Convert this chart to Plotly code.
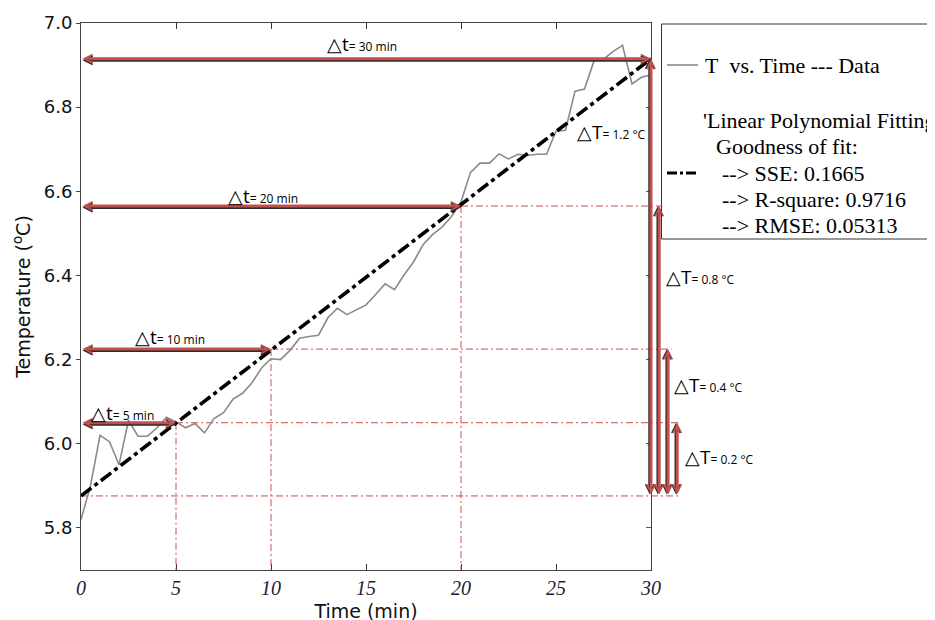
import plotly.graph_objects as go

W, H = 935, 620

# ---------------- data ----------------
time_min = [0, 0.5, 1, 1.5, 2, 2.5, 3, 3.5, 4, 4.5, 5, 5.5, 6, 6.5, 7, 7.5, 8, 8.5, 9, 9.5,
            10, 10.5, 11, 11.5, 12, 12.5, 13, 13.5, 14, 14.5, 15, 15.5, 16, 16.5, 17, 17.5,
            18, 18.5, 19, 19.5, 20, 20.5, 21, 21.5, 22, 22.5, 23, 23.5, 24, 24.5, 25, 25.5,
            26, 26.5, 27, 27.5, 28, 28.5, 29, 29.5, 30]
temp_c = [5.820, 5.900, 6.020, 6.005, 5.950, 6.056, 6.018, 6.018, 6.038, 6.063, 6.052, 6.038,
          6.048, 6.026, 6.060, 6.074, 6.106, 6.120, 6.145, 6.180, 6.202, 6.200, 6.222, 6.251,
          6.255, 6.258, 6.300, 6.322, 6.307, 6.318, 6.330, 6.354, 6.380, 6.366, 6.401, 6.432,
          6.473, 6.497, 6.515, 6.540, 6.575, 6.645, 6.667, 6.667, 6.689, 6.677, 6.688, 6.685,
          6.688, 6.688, 6.743, 6.745, 6.838, 6.843, 6.910, 6.914, 6.932, 6.947, 6.855, 6.871,
          6.877]

fit_time = [0, 30]
fit_temp = [5.876, 6.915]

dt_ends = [5, 10, 20, 30]                    # Δt intervals (min)
dt_levels = [6.050, 6.225, 6.565, 6.915]     # fitted T at end of each interval
t_base = 5.876                               # fitted T at t = 0
dT_values = ["0.2", "0.4", "0.8", "1.2"]     # ΔT labels (°C)

x_ticks = [0, 5, 10, 15, 20, 25, 30]
y_ticks = [5.8, 6.0, 6.2, 6.4, 6.6, 6.8, 7.0]

legend_data = "T\u00a0\u00a0vs. Time --- Data"
legend_fit = ["'Linear Polynomial Fitting", "Goodness of fit:",
              "--> SSE: 0.1665", "--> R-square: 0.9716", "--> RMSE: 0.05313"]

# ---------------- layout helpers ----------------
OFF = 8  # page body margin in the browser
PX_L, PX_R, PX_T, PX_B = 81, 651, 23, 570
def px(x):
    return (x - OFF) / W
def py(y):
    return 1 - (y - OFF) / H

x_dom = [px(PX_L), px(PX_R)]
y_dom = [py(PX_B), py(PX_T)]
x2_dom = [px(PX_L), 1.0]
x2_max = 30 * (x2_dom[1] - x2_dom[0]) / (x_dom[1] - x_dom[0])
Y_MIN, Y_MAX = 5.70, 7.0

RED = "#c0504d"
SHADOW = "#2a2a2a"
GUIDE = "#cf4a4a"

# vertical ΔT arrow positions (x2 coords) for ΔT = 0.2, 0.4, 0.8, 1.2
vert_x = [31.38, 30.9, 30.43, 30.0]
dt_label_pos = [(2.2, 6.074), (4.7, 6.254), (9.6, 6.590), (14.8, 6.950)]
dT_label_pos = [(33.6, 5.968), (33.0, 6.140), (32.6, 6.396), (27.9, 6.742)]

fig = go.Figure()

# helper for right-side inside ticks
fig.add_trace(go.Scatter(x=[None], y=[None], xaxis="x", yaxis="y2",
                         hoverinfo="skip", mode="lines"))

# guide lines (extended subplot)
gdash = "7px,3px,2px,3px"
fig.add_trace(go.Scatter(x=[0, 31.55], y=[t_base, t_base], mode="lines",
                         line=dict(color=GUIDE, width=1, dash=gdash),
                         xaxis="x2", yaxis="y", hoverinfo="skip"))
for i in range(3):
    xe = dt_ends[i]
    lv = dt_levels[i]
    xr = vert_x[i] + 0.18
    fig.add_trace(go.Scatter(x=[xe, xr], y=[lv, lv], mode="lines",
                             line=dict(color=GUIDE, width=1, dash=gdash),
                             xaxis="x2", yaxis="y", hoverinfo="skip"))
    fig.add_trace(go.Scatter(x=[xe, xe], y=[lv, Y_MIN], mode="lines",
                             line=dict(color=GUIDE, width=1, dash=gdash),
                             xaxis="x2", yaxis="y", hoverinfo="skip"))

# data line
fig.add_trace(go.Scatter(x=time_min, y=temp_c, mode="lines",
                         line=dict(color="#8a8a8a", width=1.6),
                         xaxis="x2", yaxis="y", hoverinfo="skip"))

# fit line
fig.add_trace(go.Scatter(x=fit_time, y=fit_temp, mode="lines",
                         line=dict(color="black", width=3.6, dash="13px,4px,4px,4px"),
                         xaxis="x2", yaxis="y", hoverinfo="skip"))

annotations = []
def arrow(x0, y0, x1, y1, color, dx=0, dy=0, w=3):
    return dict(x=x1, y=y1, ax=x0, ay=y0, xref="x2", yref="y", axref="x2", ayref="y",
                text="", showarrow=True, arrowhead=5, startarrowhead=5,
                arrowside="end+start", arrowsize=0.55, startarrowsize=0.55,
                arrowwidth=w, arrowcolor=color, standoff=0, startstandoff=0,
                xshift=dx, yshift=dy)

# horizontal Δt arrows
for xe, lv in zip(dt_ends, dt_levels):
    annotations.append(arrow(0, lv, xe, lv, SHADOW, dy=-1.5))
    annotations.append(arrow(0, lv, xe, lv, RED))
# vertical ΔT arrows
for xv, lv in zip(vert_x, dt_levels):
    annotations.append(arrow(xv, t_base, xv, lv, SHADOW, dx=-1.2))
    annotations.append(arrow(xv, t_base, xv, lv, RED))

lab_font = dict(family="Open Sans", size=19, color="black")
for d, (lx, ly) in zip(dt_ends, dt_label_pos):
    annotations.append(dict(x=lx, y=ly, xref="x2", yref="y", showarrow=False,
                            xanchor="center", yanchor="middle", font=lab_font,
                            text=f"△t<span style='font-size:12px'>= {d} min</span>"))
for v, (lx, ly) in zip(dT_values, dT_label_pos):
    annotations.append(dict(x=lx, y=ly, xref="x2", yref="y", showarrow=False,
                            xanchor="center", yanchor="middle", font=lab_font,
                            text=f"△T<span style='font-size:12px'>= {v} °C</span>"))

# custom legend
leg_font = dict(family="Liberation Serif", size=22, color="black")
annotations.append(dict(x=px(703), y=py(66), xref="paper", yref="paper", showarrow=False,
                        xanchor="left", yanchor="middle", font=leg_font, text=legend_data))
fit_x = [701, 714, 720, 720, 720]
fit_y = [120, 147, 173, 199, 225]
for t, lx, ly in zip(legend_fit, fit_x, fit_y):
    annotations.append(dict(x=px(lx), y=py(ly), xref="paper", yref="paper", showarrow=False,
                            xanchor="left", yanchor="middle", font=leg_font, text=t))

shapes = [
    dict(type="rect", xref="paper", yref="paper", x0=px(661.5), x1=1.01,
         y0=py(239), y1=py(24), line=dict(color="#333333", width=1), fillcolor="white",
         layer="below"),
    dict(type="line", xref="paper", yref="paper", x0=px(667), x1=px(698),
         y0=py(65), y1=py(65), line=dict(color="#8a8a8a", width=1.6)),
    dict(type="line", xref="paper", yref="paper", x0=px(667), x1=px(696),
         y0=py(173), y1=py(173), line=dict(color="black", width=3, dash="10px,3px,3px,3px")),
]

fig.update_layout(
    width=W, height=H,
    margin=dict(l=0, r=0, t=0, b=0, autoexpand=False),
    paper_bgcolor="white", plot_bgcolor="rgba(0,0,0,0)",
    showlegend=False,
    xaxis=dict(domain=x_dom, range=[0, 30], anchor="y", tickvals=x_ticks, automargin=False,
               ticks="inside", ticklen=6, tickcolor="#333", mirror="ticks",
               showline=True, linecolor="#444", linewidth=1,
               showgrid=False, zeroline=False,
               tickfont=dict(family="Liberation Serif", size=20, color="#1c1c3c", style="italic"),
               title=dict(text="Time (min)", font=dict(family="DejaVu Sans", size=19, color="#111"),
                          standoff=6)),
    xaxis2=dict(domain=x2_dom, range=[0, x2_max], anchor="y", visible=False, automargin=False,
                showgrid=False, zeroline=False),
    yaxis=dict(domain=y_dom, range=[Y_MIN, Y_MAX], anchor="x", tickvals=y_ticks, automargin=False,
               tickformat=".1f", ticks="outside", ticklen=4, tickcolor="#444",
               showline=True, mirror=True, linecolor="#444", linewidth=1,
               showgrid=False, zeroline=False,
               tickfont=dict(family="DejaVu Sans", size=18, color="#111"),
               title=dict(text="Temperature (<sup>o</sup>C)",
                          font=dict(family="DejaVu Sans", size=19, color="#111"),
                          standoff=8)),
    yaxis2=dict(overlaying="y", side="right", anchor="x", range=[Y_MIN, Y_MAX], automargin=False,
                tickvals=y_ticks, ticks="inside", ticklen=5, tickcolor="#555",
                showticklabels=False, showline=False, showgrid=False, zeroline=False),
    annotations=annotations,
    shapes=shapes,
)

fig.write_html("out.html")
